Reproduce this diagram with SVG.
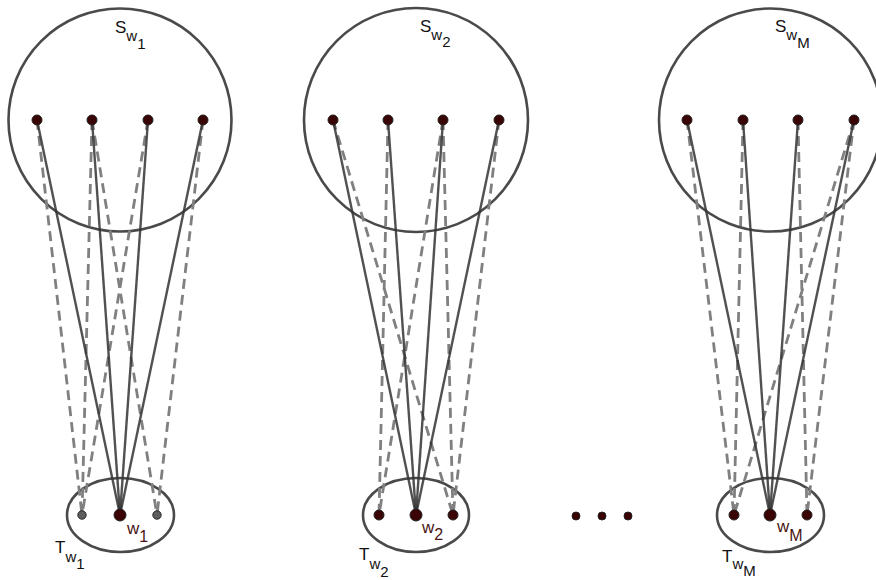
<svg xmlns="http://www.w3.org/2000/svg" width="876" height="580" viewBox="0 0 876 580">
<style>
.set{fill:none;stroke:#4a4a4a;stroke-width:2.6}
.solid{stroke:#333;stroke-width:2.4;stroke-opacity:0.85;fill:none}
.dash{stroke:#808080;stroke-width:2.8;stroke-dasharray:10 6;fill:none}
.n{fill:#3a0404;stroke:#222;stroke-width:1}
.g{fill:#5e5e5e;stroke:#2a2a2a;stroke-width:1}
.lbl{font-family:"Liberation Sans",Arial,sans-serif;font-size:17px;fill:#111}
.wl{font-family:"Liberation Sans",Arial,sans-serif;font-size:17px;fill:#4a1414}
</style>
<rect width="876" height="580" fill="#fff"/>
<g id="sets">
  <circle id="S1" class="set" cx="120" cy="120" r="111.5"/>
  <circle id="S2" class="set" cx="416" cy="120" r="112"/>
  <circle id="S3" class="set" cx="770.5" cy="120" r="111.5"/>
  <ellipse id="T1" class="set" cx="120.5" cy="515" rx="53.5" ry="37"/>
  <ellipse id="T2" class="set" cx="416" cy="515" rx="53" ry="37"/>
  <ellipse id="T3" class="set" cx="770.5" cy="515" rx="53.5" ry="37"/>
</g>
<g id="connectors">
  <g class="dash">
    <line x1="37" y1="120" x2="82" y2="515"/>
    <line x1="92" y1="120" x2="82" y2="515"/>
    <line x1="92" y1="120" x2="157" y2="515"/>
    <line x1="148" y1="120" x2="82" y2="515"/>
    <line x1="203" y1="120" x2="157" y2="515"/>
    <line x1="333" y1="120" x2="453" y2="515"/>
    <line x1="388" y1="120" x2="379" y2="515"/>
    <line x1="443" y1="120" x2="379" y2="515"/>
    <line x1="443" y1="120" x2="453" y2="515"/>
    <line x1="499" y1="120" x2="453" y2="515"/>
    <line x1="687" y1="120" x2="734" y2="515"/>
    <line x1="743" y1="120" x2="734" y2="515"/>
    <line x1="798" y1="120" x2="807" y2="515"/>
    <line x1="854" y1="120" x2="807" y2="515"/>
    <line x1="854" y1="120" x2="734" y2="515"/>
  </g>
  <g class="solid">
    <line x1="37" y1="120" x2="120" y2="515"/>
    <line x1="92" y1="120" x2="120" y2="515"/>
    <line x1="148" y1="120" x2="120" y2="515"/>
    <line x1="203" y1="120" x2="120" y2="515"/>
    <line x1="333" y1="120" x2="416" y2="515"/>
    <line x1="388" y1="120" x2="416" y2="515"/>
    <line x1="443" y1="120" x2="416" y2="515"/>
    <line x1="499" y1="120" x2="416" y2="515"/>
    <line x1="687" y1="120" x2="770" y2="515"/>
    <line x1="743" y1="120" x2="770" y2="515"/>
    <line x1="798" y1="120" x2="770" y2="515"/>
    <line x1="854" y1="120" x2="770" y2="515"/>
  </g>
</g>
<g id="group1">
  <circle class="n" cx="37" cy="120" r="5"/>
  <circle class="n" cx="92" cy="120" r="5"/>
  <circle class="n" cx="148" cy="120" r="5"/>
  <circle class="n" cx="203" cy="120" r="5"/>
  <circle class="g" cx="82" cy="515" r="4.2"/>
  <circle class="n" cx="120" cy="515" r="6"/>
  <circle class="g" cx="157" cy="515" r="4.2"/>
  <text class="lbl" x="115" y="33">S<tspan dy="8" font-size="15">w</tspan><tspan dy="8" font-size="15">1</tspan></text>
  <text class="lbl" x="55" y="553">T<tspan dy="9" font-size="15">w</tspan><tspan dy="7" font-size="15">1</tspan></text>
  <text class="wl" x="127" y="534">w<tspan dy="8" font-size="16">1</tspan></text>
</g>
<g id="group2">
  <circle class="n" cx="333" cy="120" r="5"/>
  <circle class="n" cx="388" cy="120" r="5"/>
  <circle class="n" cx="443" cy="120" r="5"/>
  <circle class="n" cx="499" cy="120" r="5"/>
  <circle class="n" cx="379" cy="515" r="5"/>
  <circle class="n" cx="416" cy="515" r="6"/>
  <circle class="n" cx="453" cy="515" r="5"/>
  <text class="lbl" x="420" y="32">S<tspan dy="8" font-size="15">w</tspan><tspan dy="7" font-size="15">2</tspan></text>
  <text class="lbl" x="359" y="560">T<tspan dy="9" font-size="15">w</tspan><tspan dy="8" font-size="15">2</tspan></text>
  <text class="wl" x="422" y="533">w<tspan dy="7" font-size="16">2</tspan></text>
</g>
<g id="groupM">
  <circle class="n" cx="687" cy="120" r="5"/>
  <circle class="n" cx="743" cy="120" r="5"/>
  <circle class="n" cx="798" cy="120" r="5"/>
  <circle class="n" cx="854" cy="120" r="5"/>
  <circle class="n" cx="734" cy="515" r="5"/>
  <circle class="n" cx="770" cy="515" r="6"/>
  <circle class="n" cx="807" cy="515" r="5"/>
  <text class="lbl" x="775" y="32">S<tspan dy="8" font-size="15">w</tspan><tspan dy="8" font-size="15">M</tspan></text>
  <text class="lbl" x="722" y="562">T<tspan dy="7" font-size="15">w</tspan><tspan dy="7" font-size="15">M</tspan></text>
  <text class="wl" x="777" y="532">w<tspan dy="9" font-size="16">M</tspan></text>
</g>
<g id="ellipsis">
  <circle class="n" cx="576" cy="516" r="4"/>
  <circle class="n" cx="602" cy="516" r="4"/>
  <circle class="n" cx="628" cy="516" r="4"/>
</g>
</svg>
